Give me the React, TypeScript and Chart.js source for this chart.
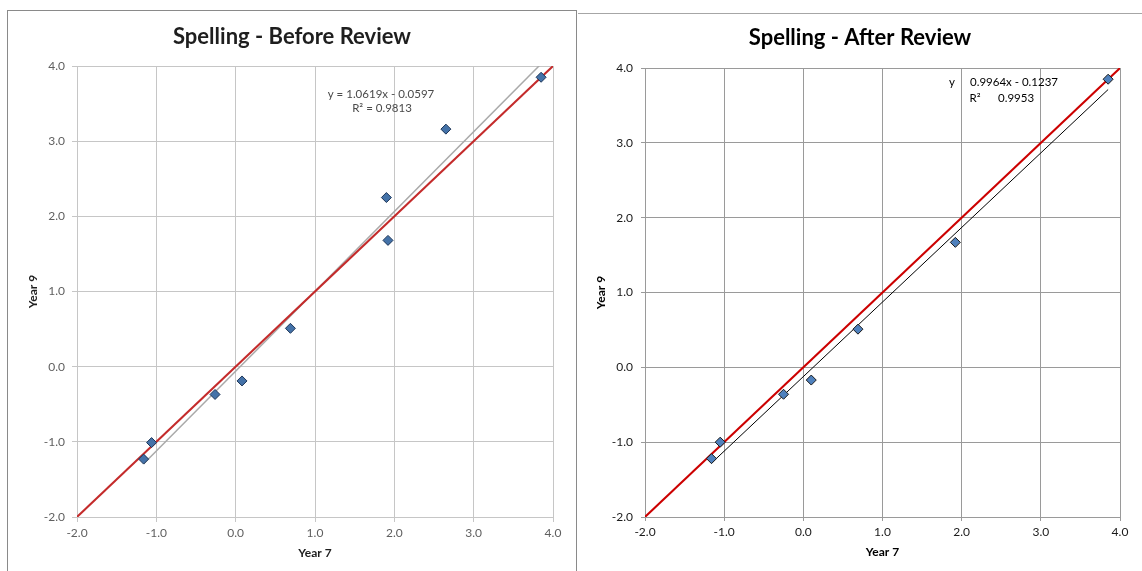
import React, { useEffect, useRef } from "react";
import { Chart, registerables } from "chart.js";

Chart.register(...registerables);

// ---- data ----
const AXIS_MIN = -2;
const AXIS_MAX = 4;
const TICK_STEP = 1;

const beforeYear7 = [3.85, 2.65, 1.9, 1.92, 0.69, 0.08, -0.26, -1.06, -1.16];
const beforeYear9 = [3.85, 3.16, 2.25, 1.68, 0.51, -0.19, -0.37, -1.01, -1.23];
const beforeSlope = 1.0619;
const beforeIntercept = -0.0597;
const beforeR2 = 0.9813;

const afterYear7 = [3.85, 1.92, 0.69, 0.1, -0.25, -1.05, -1.16];
const afterYear9 = [3.85, 1.67, 0.51, -0.17, -0.36, -1.0, -1.22];
const afterSlope = 0.9964;
const afterIntercept = -0.1237;
const afterR2 = 0.9953;

const beforeTitle = "Spelling - Before Review";
const afterTitle = "Spelling - After Review";
const xTitle = "Year 7";
const yTitle = "Year 9";

const FONT = "Lato, 'Open Sans', sans-serif";

type TextItem = { text: string; dx: number; dy: number; align: CanvasTextAlign };

type Style = {
  width: number;
  height: number;
  titleColor: string;
  textColor: string;
  gridColor: string;
  pointFill: string;
  pointBorder: string;
  identityColor: string;
  trendColor: string;
  trendWidth: number;
  titlePadTop: number;
  titlePadBottom: number;
  padRight: number;
  yAxisWidth: number;
  xAxisHeight: number;
  yTitlePad: number;
  xTitlePad: number;
  tickLength: number;
  yTickPad: number;
  xTickPad: number;
  labelColor: string;
  labels: TextItem[];
};

function buildChart(
  canvas: HTMLCanvasElement,
  title: string,
  xs: number[],
  ys: number[],
  slope: number,
  intercept: number,
  s: Style
) {
  const points = xs.map((x, i) => ({ x, y: ys[i] }));
  const minX = Math.min(...xs);
  const maxX = Math.max(...xs);
  const trend = [minX, maxX].map((x) => ({ x, y: slope * x + intercept }));
  const identity = [AXIS_MIN, AXIS_MAX].map((v) => ({ x: v, y: v }));

  const labelPlugin = {
    id: "eqLabels",
    afterDatasetsDraw(chart: any) {
      const { ctx, chartArea } = chart;
      ctx.save();
      ctx.font = `11.5px ${FONT}`;
      ctx.fillStyle = s.labelColor;
      ctx.textBaseline = "middle";
      s.labels.forEach((l) => {
        ctx.textAlign = l.align;
        ctx.fillText(l.text, chartArea.left + l.dx, chartArea.top + l.dy);
      });
      ctx.restore();
    },
  };

  const tickFmt = (v: any) => Number(v).toFixed(1);

  return new Chart(canvas, {
    type: "scatter",
    data: {
      datasets: [
        {
          label: "Year 9",
          data: points,
          order: 0,
          pointStyle: "rectRot",
          pointRadius: 5,
          pointHoverRadius: 5,
          pointBackgroundColor: s.pointFill,
          pointBorderColor: s.pointBorder,
          pointBorderWidth: 1,
          showLine: false,
        },
        {
          label: "y = x",
          data: identity,
          order: 1,
          showLine: true,
          borderColor: s.identityColor,
          borderWidth: 2,
          pointRadius: 0,
        },
        {
          label: "Linear",
          data: trend,
          order: 2,
          showLine: true,
          borderColor: s.trendColor,
          borderWidth: s.trendWidth,
          pointRadius: 0,
        },
      ],
    },
    options: {
      responsive: false,
      animation: false,
      events: [],
      layout: { padding: 0 },
      plugins: {
        legend: { display: false },
        tooltip: { enabled: false },
        title: {
          display: true,
          text: title,
          color: s.titleColor,
          font: { family: FONT, size: 22, weight: "bold", lineHeight: 1.2 },
          padding: { top: s.titlePadTop, bottom: s.titlePadBottom },
        },
      },
      scales: {
        x: {
          type: "linear",
          min: AXIS_MIN,
          max: AXIS_MAX,
          ticks: {
            stepSize: TICK_STEP,
            callback: tickFmt,
            color: s.textColor,
            font: { family: FONT, size: 12 },
            padding: s.xTickPad,
            maxRotation: 0,
          },
          grid: { color: s.gridColor, lineWidth: 1, tickLength: s.tickLength, drawTicks: true },
          border: { color: s.gridColor, width: 1 },
          title: {
            display: true,
            text: xTitle,
            color: s.titleColor,
            font: { family: FONT, size: 12, weight: "bold", lineHeight: 1.2 },
            padding: { top: 0, bottom: s.xTitlePad },
          },
          afterFit: (scale: any) => {
            scale.height = s.xAxisHeight;
          },
        },
        y: {
          type: "linear",
          min: AXIS_MIN,
          max: AXIS_MAX,
          ticks: {
            stepSize: TICK_STEP,
            callback: tickFmt,
            color: s.textColor,
            font: { family: FONT, size: 12 },
            padding: s.yTickPad,
          },
          grid: { color: s.gridColor, lineWidth: 1, tickLength: s.tickLength, drawTicks: true },
          border: { color: s.gridColor, width: 1 },
          title: {
            display: true,
            text: yTitle,
            color: s.titleColor,
            font: { family: FONT, size: 12, weight: "bold", lineHeight: 1.2 },
            padding: { top: s.yTitlePad, bottom: 0 },
          },
          afterFit: (scale: any) => {
            scale.width = s.yAxisWidth;
          },
        },
        // invisible spacer on the right so the title stays centred on the full canvas
        yRight: {
          type: "linear",
          position: "right",
          min: AXIS_MIN,
          max: AXIS_MAX,
          ticks: { display: false },
          grid: { display: false, drawTicks: false },
          border: { display: false },
          title: { display: false },
          afterFit: (scale: any) => {
            scale.width = s.padRight;
          },
        },
      },
    },
    plugins: [labelPlugin],
  } as any);
}

const beforeStyle: Style = {
  width: 568,
  height: 560,
  titleColor: "#1e1e1e",
  textColor: "#5f5f5f",
  gridColor: "#c6c6c6",
  pointFill: "#4472a8",
  pointBorder: "#1d3557",
  identityColor: "#c42b2b",
  trendColor: "#a9a9a9",
  trendWidth: 1.5,
  titlePadTop: 13,
  titlePadBottom: 15.6,
  padRight: 23,
  yAxisWidth: 69,
  xAxisHeight: 54,
  yTitlePad: 18,
  xTitlePad: 11,
  tickLength: 5,
  yTickPad: 7,
  xTickPad: 4,
  labelColor: "#4a4a4a",
  labels: [
    { text: `y = ${beforeSlope}x - ${Math.abs(beforeIntercept)}`, dx: 304, dy: 28, align: "center" },
    { text: `R² = ${beforeR2}`, dx: 305, dy: 42, align: "center" },
  ],
};

const afterStyle: Style = {
  width: 564,
  height: 557,
  titleColor: "#000000",
  textColor: "#1a1a1a",
  gridColor: "#9a9a9a",
  pointFill: "#4f81bd",
  pointBorder: "#1a1a1a",
  identityColor: "#cc0000",
  trendColor: "#000000",
  trendWidth: 1,
  titlePadTop: 11,
  titlePadBottom: 16.6,
  padRight: 22,
  yAxisWidth: 67,
  xAxisHeight: 54,
  yTitlePad: 16,
  xTitlePad: 12,
  tickLength: 4,
  yTickPad: 8,
  xTickPad: 4,
  labelColor: "#000000",
  labels: [
    { text: "y", dx: 307, dy: 14, align: "center" },
    { text: `${afterSlope}x - ${Math.abs(afterIntercept)}`, dx: 325, dy: 14, align: "left" },
    { text: "R²", dx: 330, dy: 30, align: "center" },
    { text: `${afterR2}`, dx: 353, dy: 30, align: "left" },
  ],
};

function ScatterPanel(props: {
  title: string;
  xs: number[];
  ys: number[];
  slope: number;
  intercept: number;
  style: Style;
}) {
  const ref = useRef<HTMLCanvasElement | null>(null);
  useEffect(() => {
    if (!ref.current) return;
    const chart = buildChart(ref.current, props.title, props.xs, props.ys, props.slope, props.intercept, props.style);
    return () => chart.destroy();
  }, []);
  return (
    <canvas
      ref={ref}
      width={props.style.width}
      height={props.style.height}
      style={{ display: "block", width: props.style.width, height: props.style.height }}
    />
  );
}

export default function App() {
  return (
    <div
      style={{
        position: "fixed",
        left: 0,
        top: 0,
        width: 1142,
        height: 571,
        overflow: "hidden",
        background: "#ffffff",
      }}
    >
      <div
        style={{
          position: "absolute",
          left: 7,
          top: 10,
          width: 568,
          height: 570,
          border: "1px solid #8a8a8a",
        }}
      >
        <ScatterPanel
          title={beforeTitle}
          xs={beforeYear7}
          ys={beforeYear9}
          slope={beforeSlope}
          intercept={beforeIntercept}
          style={beforeStyle}
        />
      </div>
      <div
        style={{
          position: "absolute",
          left: 578,
          top: 13,
          width: 564,
          height: 560,
          borderTop: "1px solid #a6a6a6",
        }}
      >
        <ScatterPanel
          title={afterTitle}
          xs={afterYear7}
          ys={afterYear9}
          slope={afterSlope}
          intercept={afterIntercept}
          style={afterStyle}
        />
      </div>
    </div>
  );
}
